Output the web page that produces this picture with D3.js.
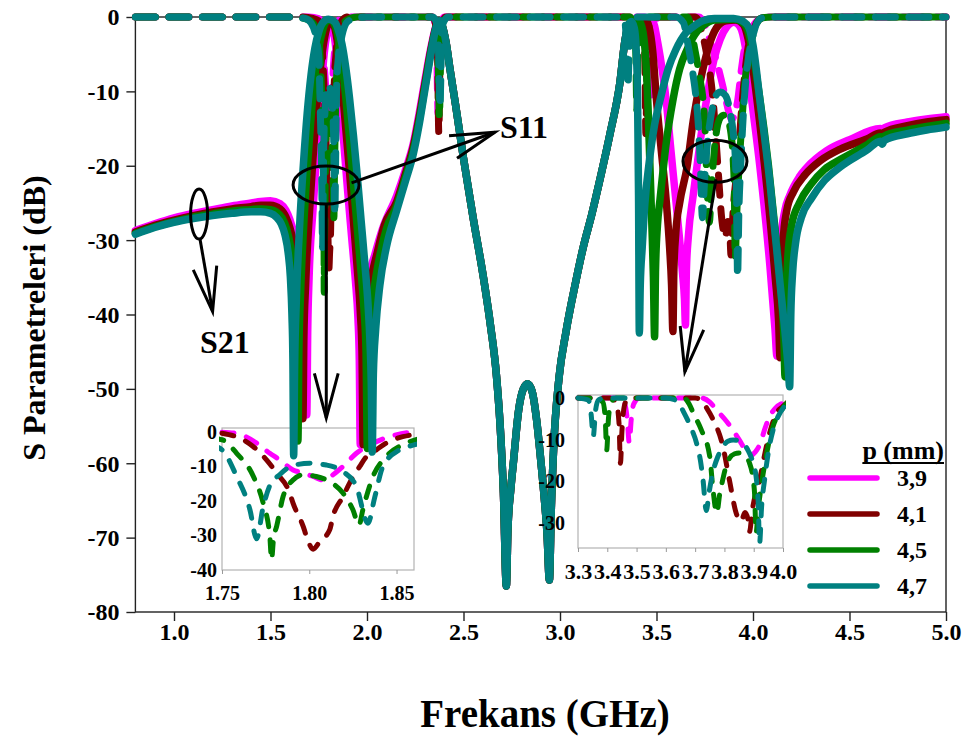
<!DOCTYPE html>
<html>
<head>
<meta charset="utf-8">
<script src="https://cdn.jsdelivr.net/npm/d3@7/dist/d3.min.js"></script>
<style>
  body { margin: 0; background: #fff; }
  svg text { font-family: "Liberation Serif", "Times New Roman", serif; font-weight: bold; fill: #000; }
</style>
</head>
<body>
<svg id="chart" width="969" height="736"></svg>
<script>
// ---------- data ----------
const pLabels = ["3,9", "4,1", "4,5", "4,7"];
const seriesColors = ["#ff00ff", "#800000", "#008000", "#008080"];

const freqTicks = [1.0, 1.5, 2.0, 2.5, 3.0, 3.5, 4.0, 4.5, 5.0];
const dbTicks = [0, -10, -20, -30, -40, -50, -60, -70, -80];
const inset1FreqTicks = [1.75, 1.80, 1.85];
const inset1DbTicks = [0, -10, -20, -30, -40];
const inset2FreqTicks = [3.3, 3.4, 3.5, 3.6, 3.7, 3.8, 3.9, 4.0];
const inset2DbTicks = [0, -10, -20, -30];

// S21 (dB) below 2.4 GHz, one list per p value
const s21Low39 = [[0.8,-28.7],[0.9,-27.8],[1.0,-27.0],[1.1,-26.4],[1.2,-25.9],[1.3,-25.4],[1.4,-25.0],[1.45,-24.8],[1.5,-24.7],[1.55,-25.1],[1.58,-26],[1.60,-27.2],[1.62,-29],[1.636,-31.5],[1.65,-35],[1.665,-40],[1.676,-45],[1.683,-49],[1.688,-53.5],[1.693,-42],[1.70,-35],[1.72,-26],[1.74,-18],[1.76,-10.5],[1.78,-4.5],[1.80,-1.4],[1.81,-0.8],[1.82,-1.3],[1.84,-4.5],[1.86,-10.5],[1.88,-17],[1.90,-23.5],[1.92,-29.5],[1.94,-35.5],[1.953,-40.5],[1.96,-46],[1.965,-57.5],[1.97,-47],[1.98,-40.5],[2.0,-36],[2.04,-32],[2.08,-28.5],[2.154,-24],[2.2,-20.5],[2.24,-17],[2.27,-13],[2.3,-8.5],[2.335,-3.6],[2.36,-1],[2.372,-0.5],[2.39,-1.2]];
const s21Low41 = [[0.8,-28.9],[0.9,-28.0],[1.0,-27.3],[1.1,-26.7],[1.2,-26.2],[1.3,-25.8],[1.4,-25.5],[1.45,-25.3],[1.5,-25.3],[1.55,-25.8],[1.58,-26.9],[1.60,-28.3],[1.62,-30.5],[1.636,-33.5],[1.648,-37.5],[1.657,-42],[1.663,-47],[1.668,-54],[1.673,-43],[1.682,-36],[1.70,-27],[1.72,-19],[1.74,-12],[1.76,-6.5],[1.78,-2.8],[1.80,-0.9],[1.815,-0.6],[1.83,-1.2],[1.85,-4],[1.87,-9],[1.89,-15],[1.91,-21],[1.93,-27.5],[1.95,-34],[1.965,-39.5],[1.974,-45],[1.98,-57.5],[1.986,-46],[1.995,-40],[2.015,-36],[2.05,-32],[2.09,-28],[2.154,-24.8],[2.2,-21],[2.24,-17.4],[2.27,-13.5],[2.3,-9],[2.335,-3.9],[2.36,-1.1],[2.375,-0.5],[2.39,-1.2]];
const s21Low45 = [[0.8,-29.1],[0.9,-28.2],[1.0,-27.5],[1.1,-26.9],[1.2,-26.5],[1.3,-26.1],[1.4,-25.9],[1.45,-25.8],[1.5,-25.9],[1.53,-26.2],[1.56,-27],[1.585,-28.6],[1.605,-31],[1.62,-34],[1.63,-37.5],[1.637,-42],[1.642,-57],[1.647,-45],[1.656,-37],[1.67,-29],[1.69,-20.5],[1.71,-13.5],[1.73,-8],[1.75,-4.2],[1.77,-1.8],[1.79,-0.6],[1.81,-0.4],[1.83,-0.9],[1.85,-2.6],[1.87,-6],[1.89,-10.8],[1.91,-16.5],[1.93,-22.5],[1.95,-28.5],[1.97,-34.5],[1.985,-39.5],[1.995,-45],[2.002,-58],[2.008,-47],[2.018,-41],[2.04,-36],[2.067,-32],[2.1,-28.5],[2.154,-25.4],[2.2,-21.5],[2.24,-17.9],[2.27,-14],[2.3,-9.4],[2.335,-4.1],[2.36,-1.2],[2.376,-0.5],[2.39,-1.2]];
const s21Low47 = [[0.8,-29.2],[0.9,-28.3],[1.0,-27.6],[1.1,-27.1],[1.2,-26.7],[1.3,-26.4],[1.4,-26.2],[1.45,-26.2],[1.5,-26.4],[1.53,-26.9],[1.555,-27.8],[1.575,-29.3],[1.592,-31.8],[1.603,-35],[1.611,-40],[1.616,-46],[1.62,-59],[1.625,-47],[1.634,-38],[1.65,-28.5],[1.67,-20],[1.69,-13],[1.71,-7.8],[1.73,-4.2],[1.75,-2],[1.77,-0.8],[1.80,-0.3],[1.83,-0.6],[1.85,-1.6],[1.87,-3.6],[1.89,-6.8],[1.91,-11],[1.93,-16],[1.95,-21.5],[1.97,-27.5],[1.99,-33.5],[2.005,-38.5],[2.016,-44],[2.022,-49],[2.027,-58.5],[2.033,-48],[2.045,-42],[2.067,-36],[2.1,-31],[2.154,-26],[2.2,-22],[2.24,-18.4],[2.27,-14.5],[2.3,-9.8],[2.335,-4.4],[2.36,-1.2],[2.378,-0.5],[2.39,-1.2]];

// S21 (dB) between 2.4 and 3.34 GHz, where all four traces coincide
const s21Shared = [[2.41,-3.5],[2.43,-7],[2.46,-12],[2.5,-19],[2.55,-27],[2.6,-34.5],[2.64,-41.5],[2.67,-48],[2.69,-55],[2.707,-64],[2.722,-76.5],[2.73,-69],[2.745,-63.5],[2.76,-59.5],[2.785,-53],[2.81,-50],[2.832,-49.3],[2.855,-50.3],[2.878,-54],[2.9,-59.5],[2.918,-64.5],[2.933,-69.5],[2.945,-75.7],[2.955,-66],[2.967,-58],[2.995,-48.5],[3.03,-42.5],[3.08,-35.8],[3.12,-31],[3.165,-26.5],[3.21,-21.5],[3.26,-15.6],[3.31,-8.9],[3.337,-3.1]];

// S21 (dB) above 3.34 GHz, one list per p value
const s21High39 = [[3.355,-1.1],[3.37,-0.6],[3.4,-0.4],[3.45,-0.3],[3.475,-0.4],[3.49,-1.2],[3.5,-2.5],[3.52,-5.5],[3.55,-11.2],[3.575,-18],[3.6,-24.6],[3.62,-30],[3.635,-34.5],[3.645,-38],[3.65,-41.4],[3.655,-34],[3.665,-29.5],[3.69,-24],[3.725,-17],[3.76,-11],[3.8,-5.5],[3.83,-3],[3.865,-1.3],[3.9,-0.7],[3.93,-1.2],[3.96,-4],[3.99,-10.5],[4.036,-20.2],[4.088,-33.6],[4.114,-42],[4.124,-45.6],[4.13,-37],[4.14,-31],[4.165,-26],[4.19,-24],[4.24,-21.5],[4.28,-20.2],[4.38,-18],[4.5,-16.5],[4.66,-15],[4.67,-15.4],[4.68,-14.9],[4.8,-14.1],[4.9,-13.7],[5.0,-13.4]];
const s21High41 = [[3.355,-1.1],[3.37,-0.6],[3.4,-0.4],[3.43,-0.3],[3.445,-0.4],[3.46,-1.2],[3.48,-4.5],[3.50,-11.2],[3.525,-18],[3.55,-24.6],[3.568,-31],[3.578,-36],[3.585,-42.3],[3.59,-34],[3.6,-29],[3.62,-25],[3.658,-20.2],[3.69,-14],[3.725,-8.9],[3.77,-4],[3.81,-1.5],[3.86,-0.5],[3.91,-0.4],[3.95,-1],[3.975,-3],[4.0,-7],[4.036,-14.5],[4.08,-25],[4.115,-35],[4.133,-41],[4.14,-45.8],[4.146,-37],[4.155,-30.5],[4.175,-26],[4.21,-23.5],[4.27,-21.2],[4.35,-19.3],[4.45,-17.8],[4.59,-16.4],[4.66,-15.6],[4.67,-16],[4.68,-15.5],[4.8,-14.6],[4.9,-14.1],[5.0,-13.8]];
const s21High45 = [[3.355,-1.1],[3.37,-0.5],[3.39,-0.3],[3.41,-0.5],[3.43,-2],[3.445,-6],[3.456,-12],[3.466,-20],[3.476,-28],[3.484,-35],[3.49,-43],[3.495,-34],[3.505,-28],[3.518,-24.6],[3.55,-17],[3.585,-11.2],[3.62,-7],[3.658,-4.4],[3.7,-2.3],[3.74,-1.2],[3.8,-0.4],[3.9,-0.3],[3.94,-0.6],[3.97,-1.6],[3.99,-3.5],[4.03,-10],[4.08,-20],[4.12,-30],[4.15,-38.5],[4.16,-43],[4.166,-48.4],[4.172,-39],[4.18,-32.5],[4.2,-28],[4.24,-25],[4.3,-22.5],[4.37,-20.5],[4.45,-19.2],[4.59,-17.2],[4.66,-16.1],[4.67,-16.5],[4.68,-16],[4.8,-15.2],[4.9,-14.7],[5.0,-14.3]];
const s21High47 = [[3.355,-1.1],[3.37,-0.6],[3.385,-1.5],[3.395,-4.5],[3.402,-11],[3.407,-24],[3.411,-42.5],[3.416,-36],[3.426,-31],[3.44,-25],[3.46,-20],[3.49,-14.5],[3.52,-11],[3.56,-7],[3.6,-4.4],[3.65,-2.2],[3.69,-1.3],[3.74,-0.5],[3.8,-0.2],[3.9,-0.2],[3.95,-0.6],[3.98,-1.5],[4.0,-3.8],[4.036,-11.2],[4.088,-22.3],[4.14,-35.8],[4.17,-43.5],[4.182,-47],[4.19,-49.7],[4.196,-40],[4.205,-34.5],[4.22,-30.5],[4.25,-27],[4.305,-24.3],[4.37,-22],[4.45,-20.2],[4.59,-17.9],[4.66,-16.7],[4.67,-17.1],[4.68,-16.6],[4.8,-15.7],[4.9,-15.2],[5.0,-14.8]];

// S11 (dB), full band, one list per p value
const s11_39 = [[0.8,0],[1.7,0],[1.75,-0.2],[1.7584,-0.6],[1.77,-3.4],[1.7774,-6.3],[1.7831,-8.2],[1.7907,-11.1],[1.7965,-12],[1.8022,-13],[1.808,-14],[1.8136,-12.5],[1.8193,-10.1],[1.827,-6.3],[1.8365,-3.4],[1.846,-1.5],[1.8574,-0.3],[1.88,0],[2.34,0],[2.352,-0.9],[2.361,-4],[2.368,-13],[2.375,-4],[2.384,-0.9],[2.4,0],[3.3,0],[3.44,0],[3.46,-1.5],[3.468,-5],[3.475,-10.7],[3.482,-5],[3.49,-1.5],[3.51,0],[3.72,0],[3.75,-1],[3.773,-2.9],[3.8,-5],[3.825,-7.3],[3.85,-10],[3.875,-12.8],[3.89,-13.8],[3.905,-13],[3.92,-11.3],[3.94,-7],[3.954,-4.5],[3.975,-2.4],[4.0,-1.2],[4.03,-0.3],[4.06,0],[5.0,0]];
const s11_41 = [[0.8,0],[1.65,0],[1.72,-0.2],[1.75,-0.5],[1.7622,-2.4],[1.768,-4.4],[1.7755,-8.2],[1.7813,-12],[1.7888,-17.8],[1.7907,-20.7],[1.7965,-27.4],[1.7984,-30.3],[1.8022,-34],[1.806,-31.8],[1.8117,-28.4],[1.8136,-24.5],[1.8193,-18.8],[1.8231,-14.9],[1.8289,-10.1],[1.8327,-7.3],[1.8384,-5.3],[1.844,-3.4],[1.8536,-1.5],[1.87,-0.5],[1.9,0],[2.34,0],[2.355,-0.9],[2.365,-4.5],[2.372,-15.5],[2.379,-4.5],[2.388,-0.9],[2.41,0],[3.3,0],[3.41,0],[3.43,-1],[3.44,-6],[3.445,-15.7],[3.45,-8],[3.458,-2],[3.47,-0.2],[3.5,0],[3.7,0],[3.72,-0.6],[3.74,-2.5],[3.76,-5],[3.795,-11.7],[3.817,-19.7],[3.84,-27.6],[3.857,-29.6],[3.87,-27.5],[3.88,-29],[3.886,-32],[3.895,-27],[3.92,-19.7],[3.943,-11.7],[3.96,-7],[3.977,-3.7],[4.0,-2],[4.02,-0.7],[4.05,-0.1],[4.1,0],[5.0,0]];
const s11_45 = [[0.8,0],[1.62,0],[1.7,-0.4],[1.73,-1.2],[1.75,-2.4],[1.7584,-6.3],[1.768,-13],[1.7736,-20.7],[1.7774,-30.3],[1.7784,-37],[1.7795,-31],[1.7813,-27.4],[1.785,-18.8],[1.7907,-14],[1.7965,-12.5],[1.804,-13],[1.8117,-14.5],[1.8193,-17.8],[1.825,-22.6],[1.8285,-27],[1.8307,-22.6],[1.8365,-13],[1.844,-7.3],[1.8555,-3.4],[1.87,-1.5],[1.89,-0.5],[1.95,0],[2.34,0],[2.36,-0.9],[2.368,-4.5],[2.375,-13.5],[2.382,-4.5],[2.39,-0.9],[2.42,0],[3.3,0],[3.36,0],[3.385,-1],[3.393,-5],[3.398,-12.5],[3.404,-5],[3.413,-1],[3.43,0],[3.66,0],[3.68,-1.5],[3.694,-3.7],[3.72,-7.5],[3.75,-14.1],[3.76,-21.3],[3.774,-27.6],[3.784,-23],[3.794,-19.7],[3.805,-16.5],[3.817,-14.5],[3.835,-13.4],[3.85,-13.2],[3.868,-13.8],[3.886,-15.7],[3.898,-19.5],[3.903,-23],[3.908,-32.4],[3.915,-27],[3.925,-21.5],[3.94,-15],[3.954,-10],[3.97,-6],[3.989,-3.7],[4.0,-2.4],[4.02,-0.8],[4.05,-0.1],[4.1,0],[5.0,0]];
const s11_47 = [[0.8,0],[1.6,0],[1.68,-0.2],[1.71,-0.8],[1.73,-2],[1.743,-3.8],[1.75,-5.3],[1.7584,-13],[1.766,-22.6],[1.7698,-31],[1.7735,-22],[1.7775,-15.5],[1.783,-12.5],[1.7907,-9.8],[1.8003,-9.2],[1.8098,-9.7],[1.8193,-11.6],[1.827,-15.9],[1.8336,-26.5],[1.8375,-19],[1.8422,-10.1],[1.8517,-5.3],[1.86,-3.9],[1.875,-2],[1.9,-0.6],[1.95,-0.1],[2.0,0],[2.34,0],[2.36,-0.8],[2.37,-4],[2.378,-12],[2.386,-4],[2.395,-0.8],[2.42,0],[3.3,0],[3.335,-0.5],[3.345,-4],[3.352,-9.3],[3.36,-3],[3.37,-0.5],[3.39,0],[3.6,0],[3.64,-0.8],[3.66,-3.3],[3.685,-7],[3.705,-10.9],[3.718,-15],[3.727,-19.7],[3.738,-27],[3.748,-22.5],[3.76,-18],[3.778,-14],[3.795,-11.7],[3.812,-10.4],[3.83,-10.1],[3.848,-10.3],[3.864,-10.9],[3.882,-12.8],[3.898,-15.7],[3.91,-20],[3.915,-24.5],[3.92,-34.9],[3.927,-26],[3.937,-19.7],[3.95,-13],[3.966,-7.7],[3.989,-3.7],[4.0,-2.5],[4.02,-0.8],[4.05,-0.1],[4.1,0],[5.0,0]];

// ---------- assembled series ----------
const s21Lists = [
  [...s21Low39, ...s21Shared, ...s21High39],
  [...s21Low41, ...s21Shared, ...s21High41],
  [...s21Low45, ...s21Shared, ...s21High45],
  [...s21Low47, ...s21Shared, ...s21High47]
];
const s11Lists = [s11_39, s11_41, s11_45, s11_47];
const series = pLabels.map((p, i) => ({ p, color: seriesColors[i], s21: s21Lists[i], s11: s11Lists[i] }));

// ---------- main frame ----------
const svg = d3.select("#chart");
const x = d3.scaleLinear().domain([0.8, 5.0]).range([135.4, 946]);
const y = d3.scaleLinear().domain([-80, 0]).range([612, 17]);

const gAxes = svg.append("g");
gAxes.append("rect")
  .attr("x", x(0.8)).attr("y", y(0))
  .attr("width", x(5.0) - x(0.8)).attr("height", y(-80) - y(0))
  .attr("fill", "none").attr("stroke", "#222").attr("stroke-width", 1.4);

const xAxisG = gAxes.append("g").attr("transform", `translate(0,${y(-80)})`)
  .call(d3.axisBottom(x).tickValues(freqTicks).tickSize(9).tickFormat(d3.format(".1f")));
xAxisG.select(".domain").remove();
xAxisG.selectAll("line").attr("stroke", "#222").attr("stroke-width", 1.4);
xAxisG.selectAll("text").attr("y", 28).attr("dy", null).style("font-size", "24px");

const yAxisG = gAxes.append("g").attr("transform", `translate(${x(0.8)},0)`)
  .call(d3.axisLeft(y).tickValues(dbTicks).tickSize(9).tickPadding(7).tickFormat(d => String(d)));
yAxisG.select(".domain").remove();
yAxisG.selectAll("line").attr("stroke", "#222").attr("stroke-width", 1.4);
yAxisG.selectAll("text").attr("dy", "0.33em").style("font-size", "24px");

svg.append("text").attr("x", 545).attr("y", 727).attr("text-anchor", "middle")
  .style("font-size", "39px").text("Frekans (GHz)");
svg.append("text").attr("transform", "translate(45,318) rotate(-90)").attr("text-anchor", "middle")
  .style("font-size", "32px").text("S Parametreleri (dB)");

// ---------- insets (S11 close-ups) ----------
const insetAxisGroups = [];
function drawInset(cfg) {
  const xs = d3.scaleLinear().domain(cfg.xDomain).range(cfg.xRange);
  const ys = d3.scaleLinear().domain(cfg.yDomain).range(cfg.yRange);
  const g = svg.append("g");
  const id = "clip-" + cfg.name;
  svg.append("defs").append("clipPath").attr("id", id).append("rect")
    .attr("x", cfg.xRange[0] - 3).attr("y", cfg.yRange[1] - 4)
    .attr("width", cfg.xRange[1] - cfg.xRange[0] + 6).attr("height", cfg.yRange[0] - cfg.yRange[1] + 6);
  g.append("rect")
    .attr("x", cfg.xRange[0]).attr("y", cfg.yRange[1])
    .attr("width", cfg.xRange[1] - cfg.xRange[0]).attr("height", cfg.yRange[0] - cfg.yRange[1])
    .attr("fill", "none").attr("stroke", "#b3b3b3").attr("stroke-width", 1.2);
  const ax = g.append("g").attr("transform", `translate(0,${cfg.yRange[0]})`)
    .call(d3.axisBottom(xs).tickValues(cfg.xTicks).tickSize(4).tickFormat(cfg.xFormat));
  ax.select(".domain").remove();
  ax.selectAll("line").attr("stroke", "#999");
  ax.selectAll("text").attr("y", cfg.xLabelY).attr("dy", null).style("font-size", cfg.xFont);
  const ay = g.append("g").attr("transform", `translate(${cfg.xRange[0]},0)`)
    .call(d3.axisLeft(ys).tickValues(cfg.yTicks).tickSize(0).tickPadding(cfg.yPad).tickFormat(d => String(d)));
  ay.select(".domain").remove();
  ay.selectAll("text").attr("dy", "0.33em").style("font-size", "20px");
  insetAxisGroups.push(ax, ay);

  const line = d3.line().x(d => xs(d[0])).y(d => ys(d[1])).curve(d3.curveMonotoneX);
  const lo = cfg.xDomain[0] - 0.02, hi = cfg.xDomain[1] + 0.02;
  const lines = g.append("g").attr("clip-path", `url(#${id})`);
  series.forEach(s => {
    lines.append("path")
      .attr("d", line(s.s11.filter(d => d[0] >= lo && d[0] <= hi)))
      .attr("fill", "none").attr("stroke", s.color).attr("stroke-width", 5)
      .attr("stroke-linecap", "round").attr("stroke-linejoin", "round")
      .attr("stroke-dasharray", "12,13");
  });
}

drawInset({
  name: "a", xDomain: [1.75, 1.86], xRange: [222, 414], yDomain: [-40, 1], yRange: [570, 428],
  xTicks: inset1FreqTicks, yTicks: inset1DbTicks, xFormat: d3.format(".2f"),
  xLabelY: 30, xFont: "20px", yPad: 5
});
drawInset({
  name: "b", xDomain: [3.3, 4.0], xRange: [578, 783], yDomain: [-36, 0.7], yRange: [548, 395],
  xTicks: inset2FreqTicks, yTicks: inset2DbTicks, xFormat: d3.format(".1f"),
  xLabelY: 31, xFont: "22px", yPad: 13
});

// ---------- main traces ----------
const lineMain = d3.line().x(d => x(d[0])).y(d => y(d[1])).curve(d3.curveMonotoneX);
const gLines = svg.append("g");
series.forEach(s => {
  gLines.append("path").attr("d", lineMain(s.s21))
    .attr("fill", "none").attr("stroke", s.color).attr("stroke-width", 7.5)
    .attr("stroke-linecap", "round").attr("stroke-linejoin", "round");
  gLines.append("path").attr("d", lineMain(s.s11))
    .attr("fill", "none").attr("stroke", s.color).attr("stroke-width", 7)
    .attr("stroke-linecap", "round").attr("stroke-linejoin", "round")
    .attr("stroke-dasharray", "20,13.5");
});

// inset axes are moved above the main traces so their labels stay readable
insetAxisGroups.forEach(gr => svg.node().appendChild(gr.node()));

// ---------- annotations ----------
const gAnn = svg.append("g").attr("fill", "none").attr("stroke", "#000").attr("stroke-width", 3);
function arrow(f1, d1, f2, d2) {
  const x1 = x(f1), y1 = y(d1), x2 = x(f2), y2 = y(d2);
  gAnn.append("line").attr("x1", x1).attr("y1", y1).attr("x2", x2).attr("y2", y2);
  const a = Math.atan2(y1 - y2, x1 - x2), r = 15 * Math.PI / 180, len = 46;
  const p1 = [x2 + len * Math.cos(a + r), y2 + len * Math.sin(a + r)];
  const p2 = [x2 + len * Math.cos(a - r), y2 + len * Math.sin(a - r)];
  gAnn.append("path").attr("d", `M${p1[0]},${p1[1]}L${x2},${y2}L${p2[0]},${p2[1]}`)
    .attr("stroke-linejoin", "miter");
}
function ring(f, d, rx, ry) {
  gAnn.append("ellipse").attr("cx", x(f)).attr("cy", y(d)).attr("rx", rx).attr("ry", ry);
}
ring(1.13, -26.5, 8.5, 25);
arrow(1.135, -29.9, 1.2, -39.6);
ring(1.788, -22.6, 33, 19);
arrow(1.789, -25.2, 1.789, -53.9);
arrow(1.92, -22.3, 2.663, -15.5);
ring(3.803, -19.4, 32, 21);
arrow(3.808, -21.8, 3.647, -47.7);

svg.append("text").attr("x", x(1.264)).attr("y", y(-45.2)).attr("text-anchor", "middle")
  .style("font-size", "32px").text("S21");
svg.append("text").attr("x", x(2.689)).attr("y", y(-16.3))
  .style("font-size", "32px").text("S11");

// ---------- legend ----------
const gLeg = svg.append("g");
const title = gLeg.append("text").attr("x", 944).attr("y", 459).attr("text-anchor", "end")
  .style("font-size", "26px").text("p (mm)");
const tb = title.node().getBBox();
gLeg.append("line").attr("x1", tb.x).attr("x2", tb.x + tb.width).attr("y1", 463).attr("y2", 463)
  .attr("stroke", "#000").attr("stroke-width", 2);
series.forEach((s, i) => {
  const yy = 478 + i * 36;
  gLeg.append("line").attr("x1", 810).attr("x2", 877).attr("y1", yy).attr("y2", yy)
    .attr("stroke", s.color).attr("stroke-width", 5.5).attr("stroke-linecap", "round");
  gLeg.append("text").attr("x", 897).attr("y", yy + 8).style("font-size", "24px").text(s.p);
});
</script>
</body>
</html>
